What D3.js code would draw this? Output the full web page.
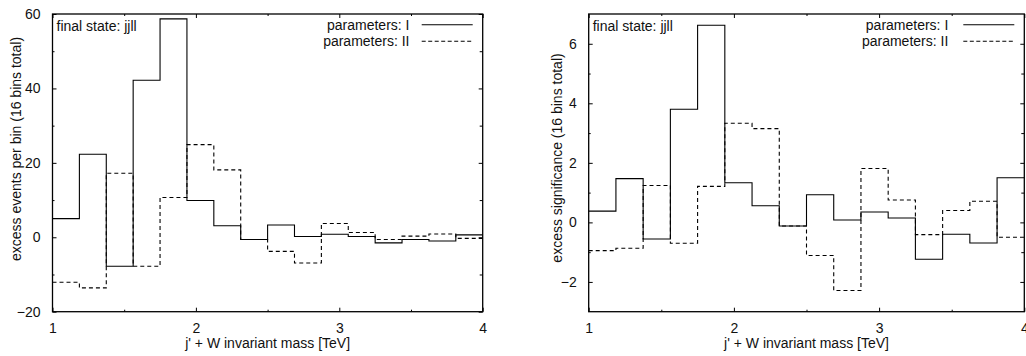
<!DOCTYPE html>
<html>
<head>
<meta charset="utf-8">
<script src="https://cdn.jsdelivr.net/npm/d3@7"></script>
<style>
  html, body { margin: 0; padding: 0; background: #fff; }
  svg { display: block; }
  text { font-family: "Liberation Sans", Arial, Helvetica, sans-serif; font-size: 14px; fill: #111; }
</style>
</head>
<body>
<svg id="chart" width="1026" height="356"></svg>
<script>
// ---- data ----
const binEdges = [1, 1.1875, 1.375, 1.5625, 1.75, 1.9375, 2.125, 2.3125, 2.5, 2.6875, 2.875, 3.0625, 3.25, 3.4375, 3.625, 3.8125, 4];

const eventsI  = [5.0, 22.3, -7.8, 42.2, 58.7, 9.9, 3.1, -0.6, 3.3, 0.2, 0.8, 0.2, -1.5, -0.6, -1.0, 0.65];
const eventsII = [-12.1, -13.6, 17.2, -7.8, 10.7, 24.9, 18.1, -0.6, -3.8, -6.9, 3.7, 1.3, -0.6, 0.3, 0.9, -0.3];

const signifI  = [0.38, 1.47, -0.56, 3.80, 6.62, 1.33, 0.56, -0.12, 0.93, 0.08, 0.35, 0.15, -1.24, -0.40, -0.69, 1.50];
const signifII = [-0.95, -0.87, 1.24, -0.70, 1.21, 3.33, 3.15, -0.12, -1.11, -2.29, 1.81, 0.75, -0.41, 0.40, 0.71, -0.50];

const xMajorTicks = [1, 2, 3, 4];
const xMinorTicks = [1.5, 2.5, 3.5];
const leftYMajor = [-20, 0, 20, 40, 60];
const leftYMinor = [-10, 10, 30, 50];
const rightYMajor = [-2, 0, 2, 4, 6];
const rightYMinor = [-1, 1, 3, 5];

const seriesNames = ["parameters: I", "parameters: II"];
const xLabel = "j' + W invariant mass [TeV]";
const annotation = "final state: jjll";

const svg = d3.select("#chart");

function drawPanel(cfg) {
  const x = d3.scaleLinear().domain([1, 4]).range([cfg.left, cfg.right]);
  const y = d3.scaleLinear().domain(cfg.yDomain).range([cfg.bottom, cfg.top]);
  const g = svg.append("g");

  const clipId = "clip" + cfg.id;
  svg.append("clipPath").attr("id", clipId).append("rect")
    .attr("x", cfg.left).attr("y", cfg.top)
    .attr("width", cfg.right - cfg.left).attr("height", cfg.bottom - cfg.top);

  g.append("g").attr("transform", `translate(0,${cfg.bottom})`)
    .call(d3.axisBottom(x).tickValues(xMajorTicks).tickSizeInner(-4).tickSizeOuter(0).tickPadding(11).tickFormat(d3.format("d")));
  g.append("g").attr("transform", `translate(0,${cfg.bottom})`)
    .call(d3.axisBottom(x).tickValues(xMinorTicks).tickSizeInner(-2).tickSizeOuter(0).tickFormat(""));
  g.append("g").attr("transform", `translate(0,${cfg.top})`)
    .call(d3.axisTop(x).tickValues(xMajorTicks).tickSizeInner(-4).tickSizeOuter(0).tickFormat(""));
  g.append("g").attr("transform", `translate(0,${cfg.top})`)
    .call(d3.axisTop(x).tickValues(xMinorTicks).tickSizeInner(-2).tickSizeOuter(0).tickFormat(""));

  g.append("g").attr("transform", `translate(${cfg.left},0)`)
    .call(d3.axisLeft(y).tickValues(cfg.yMajor).tickSizeInner(-4).tickSizeOuter(0).tickPadding(12).tickFormat(d3.format("d")));
  g.append("g").attr("transform", `translate(${cfg.left},0)`)
    .call(d3.axisLeft(y).tickValues(cfg.yMinor).tickSizeInner(-2).tickSizeOuter(0).tickFormat(""));
  g.append("g").attr("transform", `translate(${cfg.right},0)`)
    .call(d3.axisRight(y).tickValues(cfg.yMajor).tickSizeInner(-4).tickSizeOuter(0).tickFormat(""));
  g.append("g").attr("transform", `translate(${cfg.right},0)`)
    .call(d3.axisRight(y).tickValues(cfg.yMinor).tickSizeInner(-3).tickSizeOuter(0).tickFormat(""));

  g.selectAll(".domain").remove();
  g.selectAll(".tick line").attr("stroke", "#000").attr("stroke-width", 1);
  g.selectAll(".tick text").attr("fill", "#111").style("font-size", "14px")
    .style("font-family", '"Liberation Sans", Arial, sans-serif');

  g.append("rect").attr("x", cfg.left).attr("y", cfg.top)
    .attr("width", cfg.right - cfg.left).attr("height", cfg.bottom - cfg.top)
    .attr("fill", "none").attr("stroke", "#000").attr("stroke-width", 1.3);

  const line = d3.line().x(d => x(d[0])).y(d => y(d[1])).curve(d3.curveStepAfter);
  function pts(vals) {
    const p = vals.map((v, i) => [binEdges[i], v]);
    p.push([binEdges[binEdges.length - 1], vals[vals.length - 1]]);
    return p;
  }
  g.append("path").attr("d", line(pts(cfg.s1))).attr("fill", "none")
    .attr("stroke", "#000").attr("stroke-width", 1.1).attr("clip-path", `url(#${clipId})`);
  g.append("path").attr("d", line(pts(cfg.s2))).attr("fill", "none")
    .attr("stroke", "#000").attr("stroke-width", 1.1).attr("stroke-dasharray", "4,3")
    .attr("clip-path", `url(#${clipId})`);

  g.append("text").attr("x", cfg.left + 4).attr("y", cfg.top + 12).attr("dy", "0.35em").text(annotation);

  const legY = [cfg.top + 10.7, cfg.top + 27.3];
  seriesNames.forEach((name, i) => {
    g.append("text").attr("x", cfg.legTextRight).attr("y", legY[i]).attr("dy", "0.35em")
      .attr("text-anchor", "end").text(name);
    g.append("line").attr("x1", cfg.legLine[0]).attr("x2", cfg.legLine[1])
      .attr("y1", legY[i]).attr("y2", legY[i]).attr("stroke", "#000").attr("stroke-width", 1.1)
      .attr("stroke-dasharray", i === 1 ? "4,2.5" : null);
  });

  g.append("text").attr("x", (cfg.left + cfg.right) / 2).attr("y", 348)
    .attr("text-anchor", "middle").text(xLabel);
  g.append("text").attr("transform", `translate(${cfg.ylabX},${cfg.ylabY}) rotate(-90)`)
    .attr("text-anchor", "middle").text(cfg.yLabel);
}

drawPanel({
  id: "L", left: 52.5, right: 482.7, top: 14, bottom: 311.7,
  yDomain: [-20, 60], yMajor: leftYMajor, yMinor: leftYMinor,
  s1: eventsI, s2: eventsII,
  legTextRight: 409.5, legLine: [421.7, 472.7],
  ylabX: 20.5, ylabY: 149, yLabel: "excess events per bin (16 bins total)"
});

drawPanel({
  id: "R", left: 588.7, right: 1024.3, top: 14, bottom: 311.7,
  yDomain: [-3, 7], yMajor: rightYMajor, yMinor: rightYMinor,
  s1: signifI, s2: signifII,
  legTextRight: 948.3, legLine: [963.3, 1014.3],
  ylabX: 562, ylabY: 158, yLabel: "excess significance (16 bins total)"
});
</script>
</body>
</html>
